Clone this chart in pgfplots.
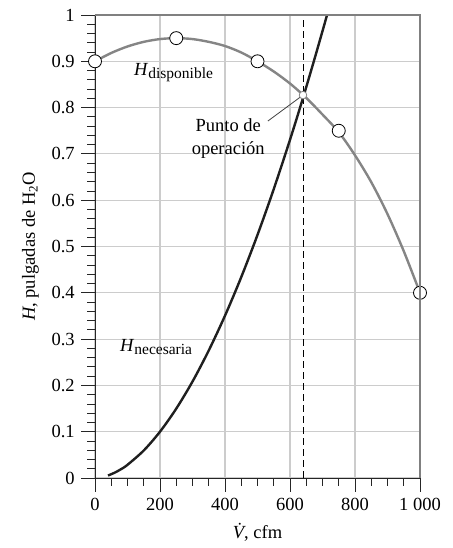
\documentclass[border=0pt]{standalone}
\usepackage{fontspec}
\setmainfont{Liberation Serif}
\usepackage{pgfplots}
\pgfplotsset{compat=1.18}

\definecolor{gridgray}{gray}{0.80}
\definecolor{framegray}{gray}{0.50}
\definecolor{curvegray}{gray}{0.52}

% lowered subscript, a bit larger than \textsubscript
\newcommand{\sub}[1]{\raisebox{-3.5pt}{\fontsize{15.5}{17}\selectfont #1}}

\begin{document}
\fontsize{18.5}{22}\selectfont
\begin{tikzpicture}
\begin{axis}[
  scale only axis, width=325pt, height=463pt,
  xmin=0, xmax=1000, ymin=0, ymax=1,
  axis x line*=bottom, axis y line*=left,
  xtick={0,200,400,600,800,1000},
  xticklabels={0,200,400,600,800,1\ 000},
  ytick={0,0.1,0.2,0.3,0.4,0.5,0.6,0.7,0.8,0.9,1},
  yticklabels={0,0.1,0.2,0.3,0.4,0.5,0.6,0.7,0.8,0.9,1},
  minor x tick num=3, minor y tick num=4,
  tick align=outside,
  major tick length=14pt, minor tick length=8pt,
  grid=major,
  major grid style={gridgray, line width=1.1pt},
  axis line style={black!85, line width=0.9pt},
  tick style={black!85, line width=0.8pt},
  xlabel={\textit{\.{V}}, cfm},
  ylabel={\textit{H}, pulgadas de H\textsubscript{2}O},
  clip=false,
]
  % operating point line
  \addplot[black, line width=0.9pt, dash pattern=on 7pt off 4pt] coordinates {(640,0) (640,1)};

  % H required by the duct system
  \addplot[black!88, line width=2.4pt, smooth] coordinates {
    (40,0.0054) (60,0.0113) (80,0.0190) (100,0.0285) (150,0.0594)
    (200,0.1000) (250,0.1498) (300,0.2083) (350,0.2754) (400,0.3506)
    (450,0.4339) (500,0.5251) (550,0.6240) (600,0.7305) (640,0.8209)
    (680,0.9162) (714,1.0)
  };

  % H available from the fan
  \addplot[curvegray, line width=2.4pt, smooth] coordinates {
    (0,0.900) (50,0.918) (100,0.932) (150,0.942) (200,0.948) (250,0.950)
    (300,0.948) (350,0.942) (400,0.933) (450,0.919) (500,0.900)
    (550,0.878) (600,0.852) (650,0.821) (700,0.785) (750,0.747)
    (800,0.697) (850,0.639) (900,0.570) (950,0.490) (1000,0.400)
  };

  % fan data points
  \addplot[only marks, mark=*, mark size=6.5pt,
    mark options={fill=white, draw=black, line width=0.8pt}] coordinates {
    (0,0.90) (250,0.95) (500,0.90) (750,0.75) (1000,0.40)
  };

  % leader to operating point
  \draw[black!75, line width=0.8pt] (axis cs:532,0.771) -- (axis cs:640,0.827);
  \addplot[only marks, mark=*, mark size=3.8pt,
    mark options={fill=white, draw=curvegray, line width=0.8pt}] coordinates {(640,0.827)};

  \node[anchor=base west, inner sep=0pt] at (axis cs:120,0.870) {\textit{H}\sub{disponible}};
  \node[anchor=base west, inner sep=0pt] at (axis cs:77,0.274) {\textit{H}\sub{necesaria}};
  \node[anchor=base, inner sep=0pt] at (axis cs:410,0.748) {Punto de};
  \node[anchor=base, inner sep=0pt] at (axis cs:410,0.698) {operación};
\end{axis}
\draw[framegray, line width=1.2pt] (current axis.north west) -- (current axis.north east) -- (current axis.south east);
\path (current axis.south west) ++(-95pt,-70pt) coordinate (bbA);
\path (current axis.north east) ++(32pt,15pt) coordinate (bbB);
\path (bbA) rectangle (bbB);
\end{tikzpicture}
\end{document}
